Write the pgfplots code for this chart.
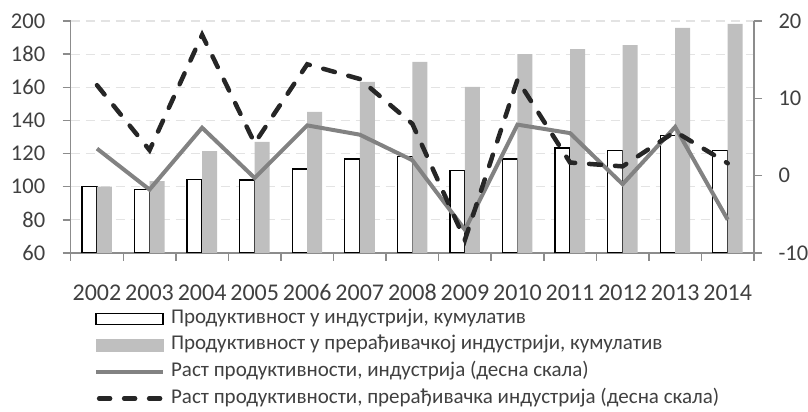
\documentclass[border=0pt]{standalone}
\usepackage{pgfplots}
\pgfplotsset{compat=1.18}
\usepackage{fontspec}
\setmainfont{Carlito}
\definecolor{barg}{HTML}{BFBFBF}
\definecolor{solidc}{HTML}{828282}
\definecolor{dashc}{HTML}{262626}
\definecolor{axc}{HTML}{8C8C8C}
\definecolor{gridc}{HTML}{E3E3E3}
\definecolor{txtc}{HTML}{404040}
\begin{document}
\begin{tikzpicture}
\path[use as bounding box] (0,0) rectangle (808bp,412bp);
\pgfplotsset{
  common/.style={
    at={(70.7bp,159bp)}, anchor=south west, scale only axis,
    width=683.3bp, height=232bp,
    xmin=-0.5, xmax=12.5,
    /pgf/number format/assume math mode=true,
    tick align=outside, major tick length=8bp,
    every tick/.style={axc, line width=1.5bp},
    axis line style={axc, line width=1.5bp},
    ticklabel style={font=\fontsize{22.5bp}{26bp}\selectfont, text=txtc},
    clip=true,
  }
}
\begin{axis}[common,
  axis y line*=left, axis x line*=bottom,
  ymin=60, ymax=200, ytick={60,80,...,200},
  xtick={-0.5,0.5,...,12.5},
  x tick label as interval,
  xticklabels={2002,2003,2004,2005,2006,2007,2008,2009,2010,2011,2012,2013,2014},
  xticklabel style={font=\fontsize{24bp}{28bp}\selectfont, anchor=north, text height=16bp, text depth=0pt, inner sep=0pt, yshift=-23bp},
  yticklabel style={xshift=-14bp},
  ymajorgrids, major grid style={gridc, line width=1.2bp, dash pattern=on 9bp off 6bp},
]
\addplot[ybar, bar width=15bp, bar shift=-7.5bp, fill=white, draw=black, line width=1.3bp]
 coordinates {(0,100) (1,98.4) (2,104.2) (3,104) (4,110.7) (5,116.7) (6,118.3) (7,109.7) (8,116.7) (9,123.4) (10,121.7) (11,131) (12,122)};
\addplot[ybar, bar width=15bp, bar shift=7.5bp, fill=barg, draw=none]
 coordinates {(0,100) (1,103.4) (2,121.5) (3,127) (4,145.1) (5,163.2) (6,175.4) (7,160.2) (8,180) (9,183.1) (10,185.5) (11,195.8) (12,198.2)};
\end{axis}
\begin{axis}[common,
  axis y line*=right, axis x line=none,
  ymin=-10, ymax=20, ytick={-10,0,10,20},
  yticklabel style={xshift=13bp},
  legend style={at={(axis description cs:0.034,-0.2457)}, anchor=north west,
    draw=none, fill=none, inner sep=0pt, row sep=9.6bp,
    font=\fontsize{21bp}{24bp}\selectfont, text=txtc,
    nodes={inner sep=0pt, text height=13bp, text depth=4bp},
    /tikz/every odd column/.append style={column sep=6bp}},
  legend cell align=left,
]
\addlegendimage{legend image code/.code={\draw[black, line width=1.3bp, fill=white] (0bp,-5.5bp) rectangle (67bp,5.5bp);}}
\addlegendentry{Продуктивност у индустрији, кумулатив}
\addlegendimage{legend image code/.code={\fill[barg] (0bp,-6bp) rectangle (67bp,6bp);}}
\addlegendentry{Продуктивност у прерађивачкој индустрији, кумулатив}
\addplot[solidc, line width=4bp, line join=miter, mark=none,
  legend image code/.code={\draw[solidc, line width=4bp] (0bp,0bp) -- (67bp,0bp);}]
 coordinates {(0,3.5) (1,-1.8) (2,6.2) (3,-0.3) (4,6.5) (5,5.3) (6,2.0) (7,-7.0) (8,6.6) (9,5.5) (10,-1.1) (11,6.3) (12,-5.7)};
\addlegendentry{Раст продуктивности, индустрија (десна скала)}
\addplot[dashc, line width=4.5bp, line cap=round, dash pattern=on 12bp off 14bp, mark=none,
  legend image code/.code={\draw[dashc, line width=4.5bp, line cap=round, dash pattern=on 11bp off 14bp] (3bp,0bp) -- (64bp,0bp);}]
 coordinates {(0,11.7) (1,3.3) (2,18.2) (3,4.2) (4,14.4) (5,12.5) (6,6.7) (7,-8.3) (8,12.4) (9,1.7) (10,1.2) (11,5.7) (12,1.6)};
\addlegendentry{Раст продуктивности, прерађивачка индустрија (десна скала)}
\end{axis}
\end{tikzpicture}
\end{document}
